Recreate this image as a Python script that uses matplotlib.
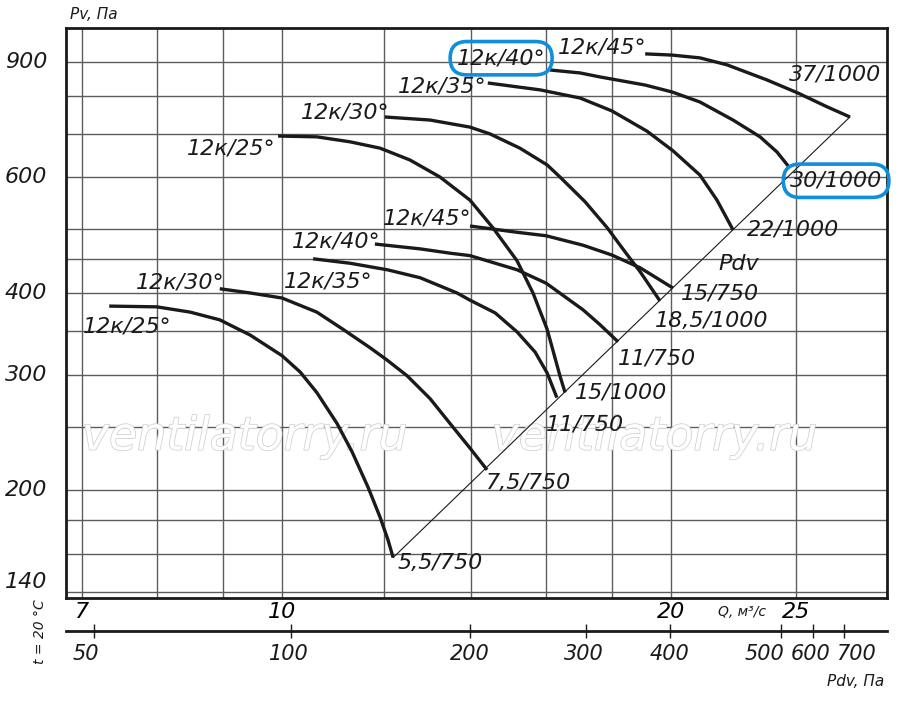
import matplotlib
matplotlib.use("Agg")
import matplotlib.pyplot as plt
import matplotlib.patheffects as pe
import matplotlib.transforms as mtransforms
from matplotlib.ticker import NullLocator, NullFormatter

# fan curves: Q (м3/с) and Pv (Па)
# 750 rpm family
q_25_750 = [7.35, 8.00, 8.49, 8.95, 9.45, 10.0, 10.33, 10.64, 11.03, 11.33, 11.66, 11.91, 12.08, 12.19]
p_25_750 = [382, 381, 374, 364, 345, 321, 303, 282, 253, 229, 202, 182, 168, 158]
q_30_750 = [8.95, 9.45, 10.0, 10.64, 11.15, 11.70, 12.06, 12.50, 13.02, 13.49, 13.98, 14.41]
p_30_750 = [406, 400, 393, 374, 352, 330, 316, 299, 276, 253, 232, 215]
q_35_750 = [10.57, 11.29, 12.06, 12.79, 13.66, 13.98, 14.62, 15.20, 15.70, 16.04, 16.32]
p_35_750 = [451, 444, 434, 422, 400, 390, 373, 349, 325, 302, 277]
q_40_750 = [11.80, 12.79, 13.49, 13.98, 15.20, 16.01, 17.10, 17.62, 18.20]
p_40_750 = [475, 467, 460, 456, 434, 414, 377, 358, 337]
q_45_750 = [13.98, 15.20, 16.01, 17.10, 18.00, 18.93, 20.07]
p_45_750 = [506, 495, 489, 473, 457, 437, 407]
# 1000 rpm family
q_25_1000 = [9.93, 10.64, 11.29, 11.91, 12.56, 13.25, 13.98, 14.56, 15.20, 15.64, 16.04, 16.41, 16.56]
p_25_1000 = [694, 692, 680, 665, 638, 601, 554, 503, 448, 400, 352, 299, 282]
q_30_1000 = [12.01, 13.02, 13.98, 14.49, 15.28, 16.04, 16.41, 17.16, 17.85, 18.43, 18.93, 19.61]
p_30_1000 = [742, 734, 716, 699, 665, 627, 601, 551, 503, 462, 431, 389]
q_35_1000 = [14.43, 15.84, 17.01, 18.00, 19.16, 20.07, 21.06, 21.71, 22.34]
p_35_1000 = [836, 816, 793, 758, 706, 659, 605, 554, 499]
q_40_1000 = [16.12, 17.01, 17.62, 19.10, 20.04, 21.06, 22.34, 23.44, 24.16, 24.72]
p_40_1000 = [875, 866, 854, 830, 810, 782, 734, 692, 656, 620]
q_45_1000 = [19.10, 20.04, 21.06, 22.10, 23.73, 25.08, 26.41, 27.51]
p_45_1000 = [926, 922, 913, 891, 845, 807, 769, 742]

curves = [(q_25_750, p_25_750), (q_30_750, p_30_750), (q_35_750, p_35_750),
          (q_40_750, p_40_750), (q_45_750, p_45_750),
          (q_25_1000, p_25_1000), (q_30_1000, p_30_1000), (q_35_1000, p_35_1000),
          (q_40_1000, p_40_1000), (q_45_1000, p_45_1000)]

# axes values
x_grid = [7, 8, 9, 10, 12, 14, 16, 18, 20, 25]
x_labeled = [7, 10, 20, 25]
y_grid = [140, 160, 180, 200, 250, 300, 350, 400, 450, 500, 600, 700, 800, 900]
y_labeled = [900, 600, 400, 300, 200, 140]
pdv_values = [50, 100, 200, 300, 400, 500, 600, 700]
pdv_at_q = [7.15, 10.16, 13.98, 17.18, 19.96, 24.33, 25.76, 27.22]
pdv_label_dx = [-8, -2, 0, -2, 0, -17, -2, 12]  # px shift of the printed numbers

# text labels (position in axes fraction, text, boxed)
labels = [
    (0.201, 0.788, "12к/25°", False),
    (0.340, 0.851, "12к/30°", False),
    (0.458, 0.898, "12к/35°", False),
    (0.530, 0.947, "12к/40°", True),
    (0.653, 0.965, "12к/45°", False),
    (0.937, 0.919, "37/1000", False),
    (0.938, 0.732, "30/1000", True),
    (0.885, 0.646, "22/1000", False),
    (0.819, 0.586, "Pdv", False),
    (0.797, 0.535, "15/750", False),
    (0.787, 0.486, "18,5/1000", False),
    (0.720, 0.421, "11/750", False),
    (0.676, 0.360, "15/1000", False),
    (0.632, 0.305, "11/750", False),
    (0.564, 0.202, "7,5/750", False),
    (0.456, 0.061, "5,5/750", False),
    (0.074, 0.477, "12к/25°", False),
    (0.139, 0.554, "12к/30°", False),
    (0.319, 0.556, "12к/35°", False),
    (0.329, 0.625, "12к/40°", False),
    (0.440, 0.665, "12к/45°", False),
]

ink = "#1a1a1a"
grid_c = "#5c5c5c"
blue = "#0f8edb"
fs = 16

fig = plt.figure(figsize=(9, 7.11), dpi=100)
ax = fig.add_axes([66 / 900, 113 / 711, 821 / 900, 570 / 711])
ax.set_xscale("log")
ax.set_yscale("log")
ax.set_xlim(6.805, 29.39)
ax.set_ylim(137.1, 1014)

ax.set_xticks(x_grid)
ax.set_xticklabels([str(v) if v in x_labeled else "" for v in x_grid])
ax.set_yticks(y_grid)
ax.set_yticklabels([])
for a in (ax.xaxis, ax.yaxis):
    a.set_minor_locator(NullLocator())
    a.set_minor_formatter(NullFormatter())
ax.tick_params(length=0, labelsize=fs, pad=3)
for t in ax.get_xticklabels():
    t.set_style("italic")
ax.grid(True, color=grid_c, lw=1.0)
for s in ax.spines.values():
    s.set_linewidth(2.0)
    s.set_color(ink)

# y labels
trans = mtransforms.blended_transform_factory(ax.transAxes, ax.transData)
for v in y_labeled:
    ax.text(-0.023, v, str(v), transform=trans, ha="right",
            va="bottom" if v == y_labeled[-1] else "center",
            fontsize=fs, style="italic", color=ink)

# watermark
for fx in (0.218, 0.717):
    ax.text(fx, 0.282, "ventilatorry.ru", transform=ax.transAxes, ha="center", va="center",
            fontsize=33, style="italic", color="white", zorder=2,
            path_effects=[pe.withStroke(linewidth=1.1, foreground="#cfcfcf")])

# curves
for q, p in curves:
    ax.plot(q, p, color=ink, lw=2.4, zorder=4, solid_capstyle="butt", solid_joinstyle="round")

# Pdv line through the curve end points
ax.plot([q_25_750[-1], q_45_1000[-1]], [p_25_750[-1], p_45_1000[-1]], color=ink, lw=0.8, zorder=3)

for fx, fy, s, boxed in labels:
    kw = {}
    if boxed:
        kw["bbox"] = dict(boxstyle="round,pad=0.3,rounding_size=0.75", fc="none", ec=blue, lw=2.6)
    ax.text(fx, fy, s, transform=ax.transAxes, ha="center", va="center",
            fontsize=fs, style="italic", color=ink, zorder=5, **kw)

# Pdv scale below
ax2 = fig.add_axes([66 / 900, 80 / 711, 821 / 900, 0.0001])
ax2.set_xscale("log")
ax2.set_xlim(ax.get_xlim())
ax2.set_yticks([])
for k in ("top", "left", "right"):
    ax2.spines[k].set_visible(False)
ax2.spines["bottom"].set_linewidth(2.0)
ax2.spines["bottom"].set_color(ink)
ax2.set_xticks(pdv_at_q)
ax2.set_xticklabels([])
ax2.xaxis.set_minor_locator(NullLocator())
ax2.xaxis.set_minor_formatter(NullFormatter())
ax2.tick_params(direction="inout", length=10, width=1.0, color=ink)
base = mtransforms.blended_transform_factory(ax2.transData, fig.transFigure)
for q, v, dx in zip(pdv_at_q, pdv_values, pdv_label_dx):
    tr = base + mtransforms.ScaledTranslation(dx / 100, 0, fig.dpi_scale_trans)
    fig.text(q, 1 - 654 / 711, str(v), transform=tr, ha="center", va="center",
             fontsize=15, style="italic", color=ink)

fig.text(0.104, 0.979, "Pv, Па", ha="center", va="center", fontsize=11, style="italic", color=ink)
fig.text(0.824, 0.139, "Q, м³/с", ha="center", va="center", fontsize=10, style="italic", color=ink)
fig.text(0.983, 0.041, "Pdv, Па", ha="right", va="center", fontsize=11, style="italic", color=ink)
fig.text(0.044, 0.111, "t = 20 °C", ha="center", va="center", rotation=90, fontsize=10,
         style="italic", color=ink)

fig.savefig("out.png", dpi=100)
